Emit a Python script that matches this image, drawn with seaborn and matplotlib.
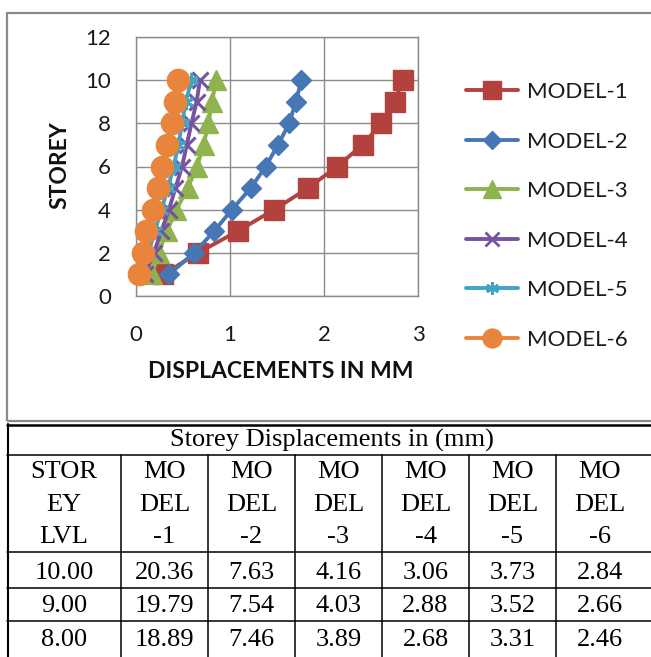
import matplotlib
matplotlib.use("Agg")
import matplotlib.pyplot as plt
import seaborn as sns
import pandas as pd
from matplotlib.patches import Rectangle
from matplotlib.lines import Line2D

# ---------------- data ----------------
storeys = [1, 2, 3, 4, 5, 6, 7, 8, 9, 10]
model_1 = [0.29, 0.66, 1.08, 1.47, 1.83, 2.14, 2.41, 2.61, 2.75, 2.84]
model_2 = [0.35, 0.62, 0.83, 1.02, 1.22, 1.38, 1.51, 1.63, 1.70, 1.76]
model_3 = [0.17, 0.24, 0.33, 0.43, 0.55, 0.65, 0.72, 0.77, 0.81, 0.85]
model_4 = [0.10, 0.19, 0.27, 0.35, 0.42, 0.49, 0.54, 0.59, 0.645, 0.68]
model_5 = [0.05, 0.13, 0.20, 0.27, 0.34, 0.40, 0.45, 0.49, 0.53, 0.59]
model_6 = [0.03, 0.075, 0.11, 0.18, 0.23, 0.28, 0.33, 0.38, 0.42, 0.45]
model_names = ["MODEL-1", "MODEL-2", "MODEL-3", "MODEL-4", "MODEL-5", "MODEL-6"]
x_ticks = [0, 1, 2, 3]
y_ticks = [0, 2, 4, 6, 8, 10, 12]
x_label = "DISPLACEMENTS IN MM"
y_label = "STOREY"

table_title = "Storey Displacements in (mm)"
table_header = [["STOR", "EY", "LVL"], ["MO", "DEL", "-1"], ["MO", "DEL", "-2"],
                ["MO", "DEL", "-3"], ["MO", "DEL", "-4"], ["MO", "DEL", "-5"],
                ["MO", "DEL", "-6"]]
table_rows = [["10.00", "20.36", "7.63", "4.16", "3.06", "3.73", "2.84"],
              ["9.00", "19.79", "7.54", "4.03", "2.88", "3.52", "2.66"],
              ["8.00", "18.89", "7.46", "3.89", "2.68", "3.31", "2.46"]]

# ---------------- styles ----------------
colors = ["#B3413E", "#4677B4", "#8FB44E", "#7652A0", "#3FA5C2", "#E8843C"]
markers = ["s", "D", "^", "x", (6, 2, 0), "o"]
msizes = [15, 10.5, 14.5, 11.5, 11, 16]

sns.set_theme(style="white")
plt.rcParams["font.family"] = ["Lato", "DejaVu Sans"]

W, H = 651, 657
fig = plt.figure(figsize=(W / 100, H / 100), dpi=100)
fig.patch.set_facecolor("white")

def fx(px):
    return px / W

def fy(py):
    return 1 - py / H

# chart box
fig.patches.append(Rectangle((fx(7), fy(421)), fx(700), (421 - 13) / H,
                             transform=fig.transFigure, fill=False,
                             edgecolor="#8A8A8A", lw=1.6, zorder=0))

ax = fig.add_axes([fx(136), fy(296), (418 - 136) / W, (296 - 37) / H])

rows = []
for name, vals in zip(model_names, [model_1, model_2, model_3, model_4, model_5, model_6]):
    for s, v in zip(storeys, vals):
        rows.append({"model": name, "disp": v, "storey": s})
df = pd.DataFrame(rows)

for i, name in enumerate(model_names):
    sub = df[df["model"] == name]
    sns.lineplot(data=sub, x="disp", y="storey", sort=False, ax=ax,
                 color=colors[i], lw=2.8, marker=markers[i], markersize=msizes[i],
                 markeredgecolor=colors[i], markerfacecolor=colors[i],
                 markeredgewidth=2.2 if i in (3, 4) else 1.0,
                 label=name, zorder=3 + i, clip_on=False)

ax.set_xlim(0, 3)
ax.set_ylim(0, 12)
ax.set_xticks(x_ticks)
ax.set_yticks(y_ticks)
ax.set_xticklabels([str(t) for t in x_ticks])
ax.set_yticklabels([str(t) for t in y_ticks])
ax.grid(True, color="#8C8C8C", lw=1.0)
ax.set_axisbelow(True)
for sp in ax.spines.values():
    sp.set_color("#8C8C8C")
    sp.set_linewidth(1.0)
ax.tick_params(axis="both", length=0, labelsize=16, colors="#1a1a1a")
ax.tick_params(axis="y", pad=18)
ax.tick_params(axis="x", pad=21)

ax.set_xlabel(x_label, fontsize=16.5, fontweight="bold", color="#111111")
ax.set_ylabel(y_label, fontsize=16.5, fontweight="bold", color="#111111")
ax.xaxis.label.set_va("center")
ax.yaxis.label.set_va("center")
ax.xaxis.set_label_coords((281 - 136) / 282, (296 - 371) / 259)
ax.yaxis.set_label_coords((60 - 136) / 282, (296 - 165) / 259)

handles = [Line2D([], [], color=colors[i], lw=2.8, marker=markers[i],
                  markersize=msizes[i] * 0.85, markeredgecolor=colors[i],
                  markeredgewidth=2.0 if i in (3, 4) else 1.0)
           for i in range(6)]
leg = ax.legend(handles, model_names, loc="upper left",
                bbox_to_anchor=(fx(466), fy(82)), bbox_transform=fig.transFigure,
                frameon=False, fontsize=16, handlelength=2.35, handletextpad=0.4,
                labelspacing=1.33, borderpad=0, borderaxespad=0)
for t in leg.get_texts():
    t.set_color("#1a1a1a")

# ---------------- table ----------------
serif = ["Liberation Serif", "DejaVu Serif"]
col_edges = [7, 121, 208, 295, 382, 469, 556, 644]
lc = "black"
fig.add_artist(Line2D([fx(7), fx(700)], [fy(424.5), fy(424.5)], transform=fig.transFigure, color=lc, lw=1.8))
for yy in [455, 552, 588, 621]:
    fig.add_artist(Line2D([fx(7), fx(700)], [fy(yy), fy(yy)], transform=fig.transFigure, color=lc, lw=1.1))
fig.add_artist(Line2D([fx(7.5), fx(7.5)], [fy(424), fy(660)], transform=fig.transFigure, color=lc, lw=1.5))
for xx in col_edges[1:-1]:
    fig.add_artist(Line2D([fx(xx), fx(xx)], [fy(455), fy(660)], transform=fig.transFigure, color=lc, lw=1.1))

fig.text(fx(332), fy(440), table_title, family=serif, fontsize=19, ha="center", va="center", color="black")
header_y = [472, 505, 537]
row_y = [573, 606, 640]
for c in range(7):
    cx = (col_edges[c] + col_edges[c + 1]) / 2
    for ln, yy in zip(table_header[c], header_y):
        fig.text(fx(cx), fy(yy), ln, family=serif, fontsize=19, ha="center", va="center", color="black")
    for r, yy in enumerate(row_y):
        fig.text(fx(cx), fy(yy), table_rows[r][c], family=serif, fontsize=19, ha="center", va="center", color="black")

fig.savefig("out.png", dpi=100, facecolor="white")
